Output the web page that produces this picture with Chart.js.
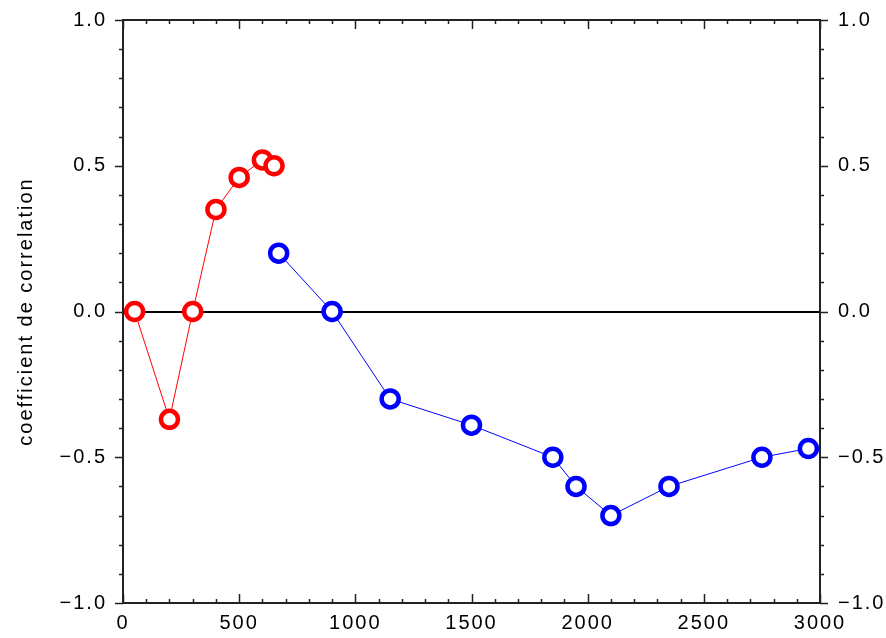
<!DOCTYPE html>
<html>
<head>
<meta charset="utf-8">
<script src="https://cdn.jsdelivr.net/npm/chart.js@4/dist/chart.umd.min.js"></script>
<style>
html,body{margin:0;padding:0;background:#fff;}
#wrap{width:886px;height:638px;}
</style>
</head>
<body>
<div id="wrap"><canvas id="c" width="886" height="638"></canvas></div>
<script>
// ---- data ----
const redX = [50, 200, 300, 400, 500, 600, 650];
const redY = [0.0, -0.37, 0.0, 0.35, 0.46, 0.52, 0.50];
const blueX = [670, 900, 1150, 1500, 1850, 1950, 2100, 2350, 2750, 2950];
const blueY = [0.20, 0.0, -0.30, -0.39, -0.50, -0.60, -0.70, -0.60, -0.50, -0.47];
const xTickLabels = ['0', '500', '1000', '1500', '2000', '2500', '3000'];
const yTickLabels = ['\u22121.0', '\u22120.5', '0.0', '0.5', '1.0'];
const yTitle = 'coefficient de correlation';

const toPts = (xs, ys) => xs.map((x, i) => ({x: x, y: ys[i]}));
const FONT = {family: '"Liberation Sans", Arial, sans-serif', size: 20};

function yLabel(v) {
  const idx = Math.round((v + 1) / 0.5);
  return yTickLabels[idx] !== undefined ? yTickLabels[idx] : '';
}
function xLabel(v) {
  const idx = Math.round(v / 500);
  return xTickLabels[idx] !== undefined ? xTickLabels[idx] : '';
}

const spacingPlugin = {
  id: 'spacing',
  beforeUpdate(chart) { chart.ctx.letterSpacing = '2px'; },
  beforeDraw(chart) { chart.ctx.letterSpacing = '2px'; }
};

const framePlugin = {
  id: 'frame',
  afterDatasetsDraw(chart) {
    const ctx = chart.ctx, a = chart.chartArea;
    const xs = chart.scales.x, ys = chart.scales.y;
    ctx.save();
    ctx.strokeStyle = '#222';
    ctx.lineWidth = 2;
    ctx.strokeRect(a.left, a.top, a.right - a.left, a.bottom - a.top);
    ctx.lineWidth = 1.5;
    ctx.beginPath();
    for (let v = 0; v <= 3000; v += 100) {
      const px = Math.round(xs.getPixelForValue(v)) + 0.5;
      const len = (v % 500 === 0) ? 9 : 4;
      ctx.moveTo(px, a.bottom); ctx.lineTo(px, a.bottom - len);
      ctx.moveTo(px, a.top); ctx.lineTo(px, a.top + len);
    }
    for (let k = -10; k <= 10; k++) {
      const v = k / 10;
      const py = Math.round(ys.getPixelForValue(v)) + 0.5;
      const len = (k % 5 === 0) ? 8 : 4;
      ctx.moveTo(a.left, py); ctx.lineTo(a.left - len, py);
      ctx.moveTo(a.right, py); ctx.lineTo(a.right + len, py);
    }
    ctx.stroke();
    ctx.restore();
  }
};

function fixV(w) {
  return function (s) { s.width = w; s.paddingTop = 0; s.paddingBottom = 0; };
}

new Chart(document.getElementById('c'), {
  type: 'scatter',
  data: {
    datasets: [
      {
        data: toPts(blueX, blueY),
        showLine: true,
        borderColor: '#0000ff',
        borderWidth: 1,
        pointRadius: 8.5,
        pointBorderWidth: 4.5,
        pointBackgroundColor: '#ffffff',
        pointBorderColor: '#0000ff',
        clip: false
      },
      {
        data: toPts(redX, redY),
        showLine: true,
        borderColor: '#ff0000',
        borderWidth: 1,
        pointRadius: 8.5,
        pointBorderWidth: 4.5,
        pointBackgroundColor: '#ffffff',
        pointBorderColor: '#ff0000',
        clip: false
      }
    ]
  },
  options: {
    responsive: false,
    animation: false,
    events: [],
    layout: {padding: {top: 20, left: 0, right: 0, bottom: 0}},
    plugins: {legend: {display: false}, tooltip: {enabled: false}},
    scales: {
      x: {
        type: 'linear', position: 'bottom', min: 0, max: 3000,
        afterFit(s) { s.height = 35; s.paddingLeft = 0; s.paddingRight = 0; },
        border: {display: false},
        grid: {display: false, drawTicks: false},
        ticks: {stepSize: 500, color: '#000', font: FONT, padding: 8, maxRotation: 0,
          callback: (v) => xLabel(v)}
      },
      y: {
        type: 'linear', position: 'left', min: -1, max: 1,
        afterFit: fixV(123),
        border: {display: false},
        grid: {drawTicks: false, lineWidth: 2,
          color: (c) => (c.tick && c.tick.value === 0) ? '#000' : 'rgba(0,0,0,0)'},
        ticks: {stepSize: 0.5, color: '#000', font: FONT, padding: 16,
          callback: (v) => yLabel(v)},
        title: {display: true, text: yTitle, color: '#000', font: FONT,
          padding: {top: 14, bottom: 0}}
      },
      y2: {
        type: 'linear', position: 'right', min: -1, max: 1,
        afterFit: fixV(66),
        border: {display: false},
        grid: {display: false, drawTicks: false},
        ticks: {stepSize: 0.5, color: '#000', font: FONT, padding: 18,
          callback: (v) => yLabel(v)}
      }
    }
  },
  plugins: [spacingPlugin, framePlugin]
});
</script>
</body>
</html>
